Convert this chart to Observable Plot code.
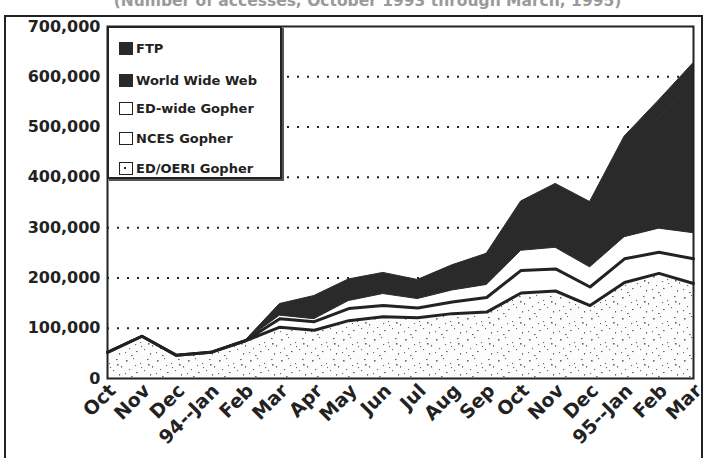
<!DOCTYPE html>
<html>
<head>
<meta charset="utf-8">
<script src="https://cdn.jsdelivr.net/npm/d3@7"></script>
<script src="https://cdn.jsdelivr.net/npm/@observablehq/plot@0.6"></script>
<style>
  html, body { margin: 0; padding: 0; background: #fff; }
  #wrap { position: relative; width: 705px; height: 458px; overflow: hidden; font-family: "DejaVu Sans", sans-serif; font-weight: bold; color: #222; }
  #title { position: absolute; left: 105px; width: 525px; top: -8px; text-align: center; font-size: 15.5px; line-height: 18px; white-space: nowrap; color: #9a9a9a; }
  #outer { position: absolute; left: 4px; top: 15px; width: 699px; height: 460px; border: 2px solid #222; box-sizing: border-box; }
  #legend { position: absolute; left: 107px; top: 26px; width: 175px; height: 153px; background: #fff; border: 2px solid #222; box-sizing: border-box; box-shadow: 2px 2px 0 #555; font-size: 13px; }
  .item { position: absolute; left: 10px; display: flex; align-items: center; }
  .sw { width: 14px; height: 13px; box-sizing: border-box; margin-right: 3px; }
  .blk { background: #2a2a2a; }
  .wht { background: #fff; border: 1.5px solid #222; }
  .dot { background: #fff; border: 1.5px solid #222; position: relative; }
  .dot::after { content: ""; position: absolute; left: 4px; top: 4px; width: 2px; height: 2px; background: #222; }
  #chart { position: absolute; left: 0; top: 0; }
</style>
</head>
<body>
<div id="wrap">
  <div id="title">(Number of accesses, October 1993 through March, 1995)</div>
  <div id="outer"></div>
  <div id="chart"></div>
  <div id="legend"></div>
</div>
<script>
// ---- data ----
const months = ["Oct","Nov","Dec","94--Jan","Feb","Mar","Apr","May","Jun","Jul","Aug","Sep","Oct","Nov","Dec","95--Jan","Feb","Mar"];
const seriesNames = ["ED/OERI Gopher","NCES Gopher","ED-wide Gopher","World Wide Web","FTP"];
const edOeriGopher = [52000,84000,46000,52000,75000,102000,96000,115000,123000,121000,129000,132000,170000,174000,145000,191000,209000,189000];
const ncesGopher   = [0,0,0,0,0,17000,17000,24000,22000,19000,23000,29000,45000,44000,37000,47000,42000,49000];
const edWideGopher = [0,0,0,0,0,6000,5000,15000,23000,18000,23000,25000,39000,42000,39000,43000,47000,51000];
const worldWideWeb = [0,0,0,0,0,19000,40000,36000,34000,30000,41000,51000,82000,107000,110000,172000,221000,298000];
const ftp          = [0,0,0,0,0,4000,6000,7000,8000,8000,9000,11000,16000,20000,20000,28000,34000,40000];
const yTicks = [0,100000,200000,300000,400000,500000,600000,700000];
const gridTicks = [100000,200000,300000,400000,500000,600000];

const valuesBySeries = {
  "ED/OERI Gopher": edOeriGopher,
  "NCES Gopher": ncesGopher,
  "ED-wide Gopher": edWideGopher,
  "World Wide Web": worldWideWeb,
  "FTP": ftp
};
const fillOf = {
  "ED/OERI Gopher": "url(#speckle)",
  "NCES Gopher": "#ffffff",
  "ED-wide Gopher": "#ffffff",
  "World Wide Web": "#2a2a2a",
  "FTP": "#2a2a2a"
};
const edgeOf = {
  "ED/OERI Gopher": "none",
  "NCES Gopher": "none",
  "ED-wide Gopher": "none",
  "World Wide Web": "#2a2a2a",
  "FTP": "#2a2a2a"
};
const table = [];
for (const s of seriesNames) valuesBySeries[s].forEach((v, i) => table.push({i, series: s, value: v}));
const lineRows = table.filter(d => d.series === "ED/OERI Gopher" || d.series === "NCES Gopher");

const plot = Plot.plot({
  width: 705,
  height: 458,
  marginLeft: 107,
  marginRight: 12,
  marginTop: 26,
  marginBottom: 80,
  style: {fontFamily: "DejaVu Sans, sans-serif", fontWeight: "bold", fontSize: "16px", color: "#222", background: "transparent"},
  x: {type: "linear", domain: [0, months.length - 1], label: null},
  y: {domain: [0, 700000], label: null},
  color: {type: "identity"},
  marks: [
    Plot.gridY(gridTicks, {stroke: "#222", strokeOpacity: 1, strokeWidth: 2, strokeDasharray: "2,8"}),
    Plot.areaY(table, {x: "i", y: "value", z: "series", fill: d => fillOf[d.series], stroke: d => edgeOf[d.series], strokeWidth: 1, order: seriesNames}),
    Plot.lineY(lineRows, Plot.stackY2({x: "i", y: "value", z: "series", order: seriesNames, stroke: "#222", strokeWidth: 3})),
    Plot.frame({stroke: "#222", strokeWidth: 2}),
    Plot.axisY({ticks: yTicks, tickFormat: d3.format(","), tickSize: 0, tickPadding: 7, label: null, fontSize: 16}),
    Plot.axisX({ticks: d3.range(months.length), tickFormat: i => months[i], tickRotate: -45, tickSize: 0, tickPadding: 5, dx: 5, dy: 4, label: null, fontSize: 19})
  ]
});

// speckle texture for the ED/OERI band
const defs = d3.select(plot).insert("defs", ":first-child");
const pat = defs.append("pattern").attr("id", "speckle").attr("patternUnits", "userSpaceOnUse")
  .attr("width", 31).attr("height", 21);
pat.append("rect").attr("width", 31).attr("height", 21).attr("fill", "#fcfcfc");
[[2,3],[9,1],[16,6],[23,2],[28,9],[5,12],[12,15],[20,13],[26,17],[7,19],[17,10],[1,16],[24,7],[11,8]]
  .forEach(([x, y], k) => pat.append("rect").attr("x", x).attr("y", y)
    .attr("width", k % 3 === 0 ? 1.6 : 1.1).attr("height", k % 4 === 0 ? 1.6 : 1.1).attr("fill", "#666"));

document.getElementById("chart").appendChild(plot);

// legend (top to bottom as in the reference)
const legendItems = [
  {name: "FTP", cls: "blk", top: 13},
  {name: "World Wide Web", cls: "blk", top: 45},
  {name: "ED-wide Gopher", cls: "wht", top: 73},
  {name: "NCES Gopher", cls: "wht", top: 103},
  {name: "ED/OERI Gopher", cls: "dot", top: 133}
];
const leg = document.getElementById("legend");
for (const it of legendItems) {
  const row = document.createElement("div");
  row.className = "item";
  row.style.top = it.top + "px";
  row.innerHTML = `<div class="sw ${it.cls}"></div><span>${it.name}</span>`;
  leg.appendChild(row);
}
</script>
</body>
</html>
